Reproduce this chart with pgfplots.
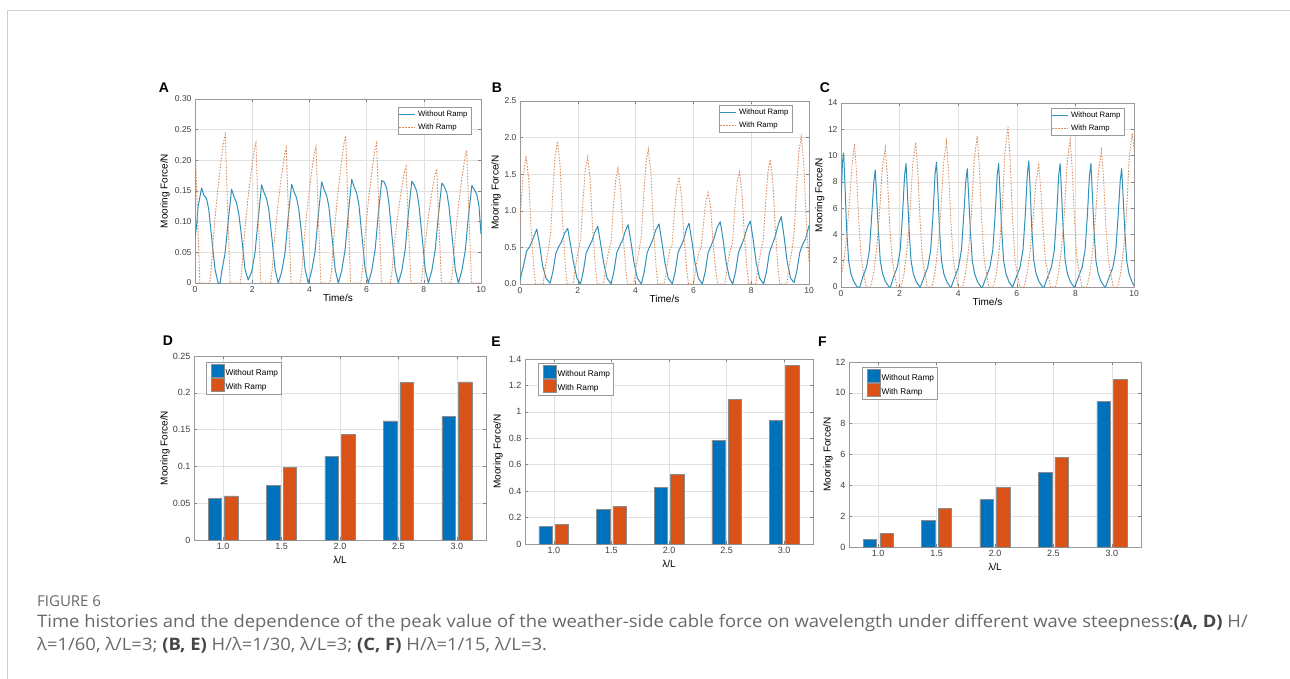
\documentclass[border=0pt]{standalone}
\usepackage{fontspec}
\setmainfont{Liberation Sans}
\newfontfamily\capfont{Open Sans}
\usepackage{graphicx}
\usepackage{pgfplots}
\pgfplotsset{compat=1.18}
\definecolor{lblue}{RGB}{50,145,185}
\definecolor{lred}{RGB}{217,140,92}
\definecolor{bblue}{RGB}{0,114,189}
\definecolor{bred}{RGB}{217,83,25}
\definecolor{framegray}{RGB}{208,208,208}
\definecolor{capgray}{RGB}{105,105,105}
\definecolor{capdark}{RGB}{70,70,70}
\pgfplotsset{
  base/.style={
    scale only axis, anchor=south west,
    axis line style={draw=black!40},
    tick style={draw=black!50, line width=0.5pt},
    major tick length=3pt, tick align=inside,
    grid=major, major grid style={draw=black!12, line width=0.6pt},
    tick label style={text=black!75},
    label style={text=black!85},
    ylabel={Mooring Force/N},
  },
  ylab at/.style={every axis y label/.style={at={(axis description cs:#1,0.5)},rotate=90,anchor=center,inner sep=0pt}},
  xlab at/.style={every axis x label/.style={at={(axis description cs:0.5,0)},anchor=center,inner sep=0pt,yshift=#1}},
  ts/.style={base,
    xmin=0, xmax=10, xtick={0,2,4,6,8,10}, xticklabels={0,2,4,6,8,10},
    xlabel={Time/s},
    tick label style={font=\fontsize{8.5}{9}\selectfont},
    label style={font=\fontsize{9.5}{10}\selectfont},
    xlab at=-15.3pt,
    legend cell align=left,
    legend image code/.code={\draw[##1] (1pt,0pt) -- (17pt,0pt);},
    legend style={anchor=north east, draw=black!40, font=\fontsize{7.8}{8}\selectfont, inner sep=1pt, row sep=1.5pt, nodes={inner sep=2.3pt}},
  },
  br/.style={base,
    xmin=0.5, xmax=5.5, xtick={1,2,3,4,5}, xticklabels={1.0,1.5,2.0,2.5,3.0},
    xlabel={λ/L},
    tick label style={font=\fontsize{9}{10}\selectfont},
    label style={font=\fontsize{11}{12}\selectfont},
    xlab at=-20pt,
    legend cell align=left,
    legend image code/.code={\path (0pt,0pt); \draw[##1] (3pt,-3.8pt) rectangle (16pt,9.2pt);},
    legend style={anchor=north west, draw=black!40, font=\fontsize{8.3}{9}\selectfont, inner sep=1.5pt, row sep=0pt, nodes={inner sep=1.3pt}},
  },
  bline/.style={color=lblue, line width=1pt, line join=round},
  rline/.style={color=lred, line width=0.9pt, dash pattern=on 1.5pt off 1.5pt},
  bbar/.style={ybar, bar width=0.231, bar shift=-0.142, fill=bblue, draw=black!45, line width=0.5pt},
  rbar/.style={ybar, bar width=0.231, bar shift=0.142, fill=bred, draw=black!45, line width=0.5pt},
}
\begin{document}
\begin{tikzpicture}
\useasboundingbox (0pt,0pt) rectangle (1290pt,-679pt);
\fill[white] (0pt,0pt) rectangle (1290pt,-679pt);
\draw[framegray, line width=1.4pt] (7.3pt,-679pt) -- (7.3pt,-10.7pt) -- (1290pt,-10.7pt);

% ---------- A ----------
\begin{axis}[ts, at={(195pt,-283pt)}, width=286pt, height=184pt,
  ymin=0, ymax=0.3, ytick={0,0.05,0.1,0.15,0.2,0.25,0.3},
  yticklabels={0,0.05,0.10,0.15,0.20,0.25,0.30}, ylab at=-0.105,
  legend style={at={(1,1)}, xshift=-10pt, yshift=-8pt}]
\addplot[bline] coordinates {
(0.00,0.075)(0.05,0.09)(0.11,0.125)(0.23,0.155)(0.31,0.143)(0.40,0.138)(0.48,0.12)(0.58,0.075)(0.70,0.022)(0.81,0.0)(0.88,0.0)(0.93,0.018)(1.05,0.048)(1.16,0.10)
(1.28,0.153)(1.36,0.141)(1.45,0.131)(1.53,0.113)(1.63,0.075)(1.75,0.022)(1.86,0.005)(1.98,0.018)(2.10,0.05)(2.21,0.105)
(2.33,0.160)(2.41,0.148)(2.50,0.138)(2.58,0.12)(2.68,0.077)(2.80,0.022)(2.91,0.0)(3.03,0.018)(3.15,0.05)(3.26,0.108)
(3.38,0.161)(3.46,0.149)(3.55,0.139)(3.63,0.12)(3.73,0.078)(3.85,0.022)(3.96,0.0)(4.08,0.02)(4.20,0.052)(4.31,0.11)
(4.43,0.165)(4.51,0.153)(4.60,0.143)(4.68,0.125)(4.78,0.08)(4.90,0.022)(5.01,0.0)(5.13,0.02)(5.25,0.055)(5.36,0.113)
(5.48,0.169)(5.56,0.157)(5.65,0.147)(5.73,0.128)(5.83,0.08)(5.95,0.022)(6.06,0.0)(6.18,0.02)(6.30,0.055)(6.41,0.113)
(6.53,0.167)(6.61,0.165)(6.70,0.155)(6.78,0.13)(6.88,0.08)(7.00,0.022)(7.11,0.0)(7.23,0.02)(7.35,0.055)(7.46,0.113)
(7.58,0.166)(7.66,0.16)(7.75,0.15)(7.83,0.127)(7.93,0.08)(8.05,0.022)(8.16,0.0)(8.28,0.02)(8.40,0.055)(8.51,0.11)
(8.63,0.163)(8.71,0.158)(8.80,0.148)(8.88,0.125)(8.98,0.08)(9.10,0.022)(9.21,0.0)(9.33,0.02)(9.45,0.053)(9.56,0.108)
(9.68,0.159)(9.76,0.153)(9.85,0.145)(9.93,0.125)(10.0,0.08)};
\addlegendentry{Without Ramp}
\addplot[rline] coordinates {
(0.00,0.236)(0.08,0.12)(0.17,0.0)(0.51,0.0)(0.56,0.019)(0.66,0.085)(0.78,0.145)(0.91,0.198)(1.00,0.23)
(1.06,0.242)(1.14,0.12)(1.23,0.0)(1.58,0.0)(1.63,0.018)(1.73,0.08)(1.85,0.137)(1.98,0.187)(2.07,0.217)
(2.13,0.228)(2.21,0.114)(2.30,0.0)(2.64,0.0)(2.69,0.018)(2.79,0.077)(2.91,0.132)(3.04,0.18)(3.13,0.209)
(3.19,0.220)(3.27,0.11)(3.36,0.0)(3.68,0.0)(3.73,0.018)(3.83,0.078)(3.95,0.133)(4.08,0.182)(4.17,0.211)
(4.23,0.222)(4.31,0.11)(4.40,0.0)(4.72,0.0)(4.77,0.019)(4.87,0.084)(4.99,0.144)(5.12,0.197)(5.21,0.228)
(5.27,0.240)(5.35,0.12)(5.44,0.0)(5.80,0.0)(5.85,0.018)(5.95,0.08)(6.07,0.137)(6.20,0.187)(6.29,0.217)
(6.35,0.228)(6.43,0.114)(6.52,0.0)(6.83,0.0)(6.88,0.015)(6.98,0.067)(7.10,0.114)(7.23,0.156)(7.32,0.18)
(7.38,0.190)(7.46,0.095)(7.55,0.0)(7.90,0.0)(7.95,0.015)(8.05,0.065)(8.17,0.112)(8.30,0.153)(8.39,0.177)
(8.45,0.186)(8.53,0.093)(8.62,0.0)(8.95,0.0)(9.00,0.017)(9.10,0.076)(9.22,0.13)(9.35,0.177)(9.44,0.205)
(9.50,0.216)(9.58,0.108)(9.67,0.0)(10.0,0.0)};
\addlegendentry{With Ramp}
\end{axis}

% ---------- B ----------
\begin{axis}[ts, at={(520pt,-284pt)}, width=289pt, height=183pt,
  ymin=0, ymax=2.5, ytick={0,0.5,1,1.5,2,2.5},
  yticklabels={0.0,0.5,1.0,1.5,2.0,2.5}, ylab at=-0.083,
  legend style={at={(1,1)}, xshift=-17pt, yshift=-4pt}]
\addplot[bline] coordinates {
(0.00,0.05)(0.12,0.25)(0.23,0.45)(0.35,0.52)(0.46,0.63)(0.58,0.75)(0.68,0.53)(0.78,0.25)(0.90,0.08)
(1.04,0.01)(1.14,0.17)(1.24,0.42)(1.34,0.51)(1.44,0.58)(1.54,0.69)(1.65,0.76)(1.75,0.53)(1.85,0.30)(1.97,0.08)
(2.09,0.0)(2.19,0.17)(2.29,0.42)(2.39,0.51)(2.49,0.59)(2.59,0.71)(2.69,0.79)(2.79,0.55)(2.89,0.30)(3.01,0.08)
(3.15,0.0)(3.25,0.17)(3.35,0.43)(3.45,0.52)(3.55,0.60)(3.65,0.73)(3.74,0.81)(3.84,0.57)(3.94,0.30)(4.06,0.08)
(4.20,0.0)(4.30,0.17)(4.40,0.43)(4.50,0.52)(4.60,0.61)(4.70,0.74)(4.81,0.82)(4.91,0.57)(5.01,0.30)(5.13,0.08)
(5.27,0.0)(5.37,0.17)(5.47,0.43)(5.57,0.52)(5.67,0.61)(5.76,0.75)(5.85,0.83)(5.95,0.58)(6.05,0.30)(6.17,0.08)
(6.31,0.0)(6.41,0.17)(6.51,0.43)(6.61,0.52)(6.71,0.62)(6.82,0.77)(6.93,0.85)(7.03,0.60)(7.13,0.30)(7.25,0.08)
(7.36,0.0)(7.46,0.17)(7.56,0.43)(7.66,0.53)(7.76,0.63)(7.87,0.78)(7.97,0.86)(8.07,0.60)(8.17,0.30)(8.29,0.08)
(8.43,0.0)(8.53,0.17)(8.63,0.43)(8.73,0.54)(8.83,0.65)(8.94,0.82)(9.04,0.92)(9.14,0.64)(9.24,0.32)(9.36,0.08)
(9.48,0.02)(9.58,0.18)(9.68,0.43)(9.78,0.54)(9.88,0.62)(10.0,0.80)};
\addlegendentry{Without Ramp}
\addplot[rline] coordinates {
(0.00,0.87)(0.10,1.45)(0.21,1.75)(0.30,1.44)(0.38,0.79)(0.48,0.21)(0.54,0.0)
(0.80,0.0)(0.88,0.24)(0.98,0.46)(1.06,0.70)(1.14,1.29)(1.22,1.76)(1.30,1.95)(1.39,1.60)(1.47,0.88)(1.57,0.23)(1.63,0.0)
(1.84,0.0)(1.92,0.24)(2.02,0.46)(2.10,0.62)(2.18,1.14)(2.26,1.56)(2.34,1.73)(2.43,1.42)(2.51,0.78)(2.61,0.21)(2.67,0.0)
(2.89,0.0)(2.97,0.24)(3.07,0.46)(3.15,0.57)(3.23,1.04)(3.31,1.42)(3.39,1.58)(3.48,1.30)(3.56,0.71)(3.66,0.19)(3.72,0.0)
(3.94,0.0)(4.02,0.24)(4.12,0.46)(4.20,0.66)(4.28,1.21)(4.36,1.66)(4.44,1.84)(4.53,1.51)(4.61,0.83)(4.71,0.22)(4.77,0.0)
(5.00,0.0)(5.08,0.24)(5.18,0.46)(5.26,0.53)(5.34,0.96)(5.42,1.31)(5.50,1.46)(5.59,1.20)(5.67,0.66)(5.77,0.18)(5.83,0.0)
(6.01,0.0)(6.09,0.24)(6.19,0.44)(6.27,0.50)(6.35,0.83)(6.43,1.13)(6.51,1.25)(6.60,1.03)(6.68,0.56)(6.78,0.15)(6.84,0.0)
(7.09,0.0)(7.17,0.24)(7.27,0.46)(7.35,0.55)(7.43,1.01)(7.51,1.38)(7.59,1.53)(7.68,1.25)(7.76,0.69)(7.86,0.18)(7.92,0.0)
(8.16,0.0)(8.24,0.24)(8.34,0.46)(8.42,0.61)(8.50,1.12)(8.58,1.53)(8.66,1.70)(8.75,1.39)(8.83,0.77)(8.93,0.20)(8.99,0.0)
(9.23,0.0)(9.31,0.24)(9.41,0.46)(9.49,0.72)(9.57,1.33)(9.65,1.81)(9.73,2.01)(9.82,1.65)(9.90,0.90)(10.0,0.30)};
\addlegendentry{With Ramp}
\end{axis}

% ---------- C ----------
\begin{axis}[ts, at={(841pt,-287pt)}, width=293pt, height=184pt,
  ymin=0, ymax=14, ytick={0,2,4,6,8,10,12,14},
  yticklabels={0,2,4,6,8,10,12,14}, ylab at=-0.072,
  legend style={at={(1,1)}, xshift=-10pt, yshift=-5pt}]
\addplot[bline] coordinates {
(0.00,6.5)(0.05,9.5)(0.09,10.2)(0.14,7.5)(0.19,4.5)(0.26,2.0)(0.34,1.0)(0.44,0.4)(0.55,0.0)(0.64,0.0)
(0.75,0.8)(0.87,1.5)(0.97,2.8)(1.05,5.5)(1.12,8.0)(1.17,8.9)(1.22,6.7)(1.27,4.5)(1.34,2.0)(1.42,1.0)(1.52,0.4)(1.64,0.0)(1.69,0.0)
(1.80,0.8)(1.92,1.5)(2.02,2.8)(2.10,5.5)(2.17,8.5)(2.22,9.4)(2.27,7.0)(2.32,4.5)(2.39,2.0)(2.47,1.0)(2.57,0.4)(2.69,0.0)(2.71,0.0)
(2.84,0.8)(2.96,1.5)(3.06,2.8)(3.14,5.5)(3.21,8.6)(3.26,9.5)(3.31,7.1)(3.36,4.5)(3.43,2.0)(3.51,1.0)(3.61,0.4)(3.73,0.0)(3.76,0.0)
(3.89,0.8)(4.01,1.5)(4.11,2.8)(4.19,5.5)(4.26,8.1)(4.31,9.0)(4.36,6.8)(4.41,4.5)(4.48,2.0)(4.56,1.0)(4.66,0.4)(4.78,0.0)(4.83,0.0)
(4.96,0.8)(5.08,1.5)(5.18,2.8)(5.26,5.5)(5.33,8.5)(5.38,9.4)(5.43,7.0)(5.48,4.5)(5.55,2.0)(5.63,1.0)(5.73,0.4)(5.85,0.0)(5.86,0.0)
(5.99,0.8)(6.11,1.5)(6.21,2.8)(6.29,5.5)(6.36,8.6)(6.41,9.6)(6.46,7.2)(6.51,4.5)(6.58,2.0)(6.66,1.0)(6.76,0.4)(6.88,0.0)(6.93,0.0)
(7.06,0.8)(7.18,1.5)(7.28,2.8)(7.36,5.5)(7.43,8.5)(7.48,9.4)(7.53,7.0)(7.58,4.5)(7.65,2.0)(7.73,1.0)(7.83,0.4)(7.95,0.0)(7.98,0.0)
(8.11,0.8)(8.23,1.5)(8.33,2.8)(8.41,5.5)(8.48,8.5)(8.53,9.4)(8.58,7.0)(8.63,4.5)(8.70,2.0)(8.78,1.0)(8.88,0.4)(9.00,0.0)(9.03,0.0)
(9.16,0.8)(9.28,1.5)(9.38,2.8)(9.46,5.5)(9.53,8.1)(9.58,9.0)(9.63,6.8)(9.68,4.5)(9.75,2.0)(9.83,1.0)(9.93,0.4)(10.0,0.1)};
\addlegendentry{Without Ramp}
\addplot[rline] coordinates {
(0.00,0.7)(0.10,2.0)(0.20,4.0)(0.30,6.8)(0.38,9.3)(0.46,10.9)(0.53,8.7)(0.61,4.9)(0.69,2.2)(0.76,1.2)(0.86,0.0)
(1.01,0.0)(1.11,1.0)(1.21,2.8)(1.31,5.5)(1.41,9.0)(1.51,10.6)(1.58,8.5)(1.66,4.8)(1.74,2.2)(1.81,1.2)(1.91,0.0)
(2.05,0.0)(2.15,1.0)(2.25,2.8)(2.35,5.5)(2.45,9.4)(2.55,11.0)(2.62,8.8)(2.70,5.0)(2.78,2.2)(2.85,1.2)(2.95,0.0)
(3.10,0.0)(3.20,1.0)(3.30,2.8)(3.40,5.5)(3.50,9.4)(3.60,11.1)(3.67,8.9)(3.75,5.0)(3.83,2.2)(3.90,1.2)(4.00,0.0)
(4.15,0.0)(4.25,1.0)(4.35,2.8)(4.45,5.5)(4.55,9.8)(4.65,11.5)(4.72,9.2)(4.80,5.2)(4.88,2.2)(4.95,1.2)(5.05,0.0)
(5.20,0.0)(5.30,1.0)(5.40,2.8)(5.50,5.8)(5.60,10.4)(5.70,12.2)(5.77,9.8)(5.85,5.5)(5.93,2.2)(6.00,1.2)(6.10,0.0)
(6.25,0.0)(6.35,1.0)(6.45,2.6)(6.55,5.0)(6.65,7.9)(6.75,9.3)(6.82,7.4)(6.90,4.2)(6.98,2.0)(7.05,1.2)(7.15,0.0)
(7.32,0.0)(7.42,1.0)(7.52,2.8)(7.62,5.5)(7.72,9.5)(7.82,11.2)(7.89,9.0)(7.97,5.0)(8.05,2.2)(8.12,1.2)(8.22,0.0)
(8.39,0.0)(8.49,1.0)(8.59,2.8)(8.69,5.5)(8.79,8.8)(8.89,10.4)(8.96,8.3)(9.04,4.7)(9.12,2.2)(9.19,1.2)(9.29,0.0)
(9.44,0.0)(9.54,1.0)(9.64,2.8)(9.74,5.5)(9.84,9.9)(9.94,11.7)(10.0,10.5)};
\addlegendentry{With Ramp}
\end{axis}

% ---------- D ----------
\begin{axis}[br, at={(194pt,-540pt)}, width=292pt, height=184pt,
  ymin=0, ymax=0.25, ytick={0,0.05,0.1,0.15,0.2,0.25},
  yticklabels={0,0.05,0.1,0.15,0.2,0.25}, ylab at=-0.099,
  legend style={at={(0,1)}, xshift=12pt, yshift=-6pt}]
\addplot[bbar] coordinates {(1,0.0566)(2,0.0747)(3,0.1132)(4,0.162)(5,0.1676)};
\addlegendentry{Without Ramp}
\addplot[rbar] coordinates {(1,0.0598)(2,0.0987)(3,0.144)(4,0.214)(5,0.2147)};
\addlegendentry{With Ramp}
\end{axis}

% ---------- E ----------
\begin{axis}[br, at={(525pt,-544pt)}, width=288pt, height=185pt,
  ymin=0, ymax=1.4, ytick={0,0.2,0.4,0.6,0.8,1,1.2,1.4},
  yticklabels={0,0.2,0.4,0.6,0.8,1,1.2,1.4}, ylab at=-0.094,
  legend style={at={(0,1)}, xshift=13pt, yshift=-4pt}]
\addplot[bbar] coordinates {(1,0.131)(2,0.26)(3,0.431)(4,0.782)(5,0.938)};
\addlegendentry{Without Ramp}
\addplot[rbar] coordinates {(1,0.151)(2,0.282)(3,0.525)(4,1.097)(5,1.352)};
\addlegendentry{With Ramp}
\end{axis}

% ---------- F ----------
\begin{axis}[br, at={(849pt,-547pt)}, width=292pt, height=185pt,
  ymin=0, ymax=12, ytick={0,2,4,6,8,10,12},
  yticklabels={0,2,4,6,8,10,12}, ylab at=-0.072,
  legend style={at={(0,1)}, xshift=13pt, yshift=-5pt}]
\addplot[bbar] coordinates {(1,0.497)(2,1.71)(3,3.09)(4,4.84)(5,9.43)};
\addlegendentry{Without Ramp}
\addplot[rbar] coordinates {(1,0.865)(2,2.49)(3,3.89)(4,5.82)(5,10.85)};
\addlegendentry{With Ramp}
\end{axis}

% panel letters
\begin{scope}[every node/.style={inner sep=0pt, anchor=center, font=\bfseries\fontsize{14}{14}\selectfont}]
\node at (164pt,-87.5pt) {A};
\node at (497pt,-87.5pt) {B};
\node at (825pt,-87.5pt) {C};
\node at (168pt,-341pt) {D};
\node at (496pt,-341.5pt) {E};
\node at (822.5pt,-342pt) {F};
\end{scope}

% caption
\node[anchor=base west, inner sep=0pt, text=capgray, font=\capfont\fontsize{15}{16}\selectfont] at (37pt,-606pt) {FIGURE 6};
\node[anchor=base west, inner sep=0pt, text=capgray, font=\capfont\fontsize{17.2}{18}\selectfont] at (37pt,-627.5pt) {\scalebox{1.072}[1]{Time histories and the dependence of the peak value of the weather-side cable force on wavelength under different wave steepness:\textcolor{capdark}{\bfseries(A, D)} H/}};
\node[anchor=base west, inner sep=0pt, text=capgray, font=\capfont\fontsize{17.2}{18}\selectfont] at (37pt,-650.5pt) {\scalebox{1.072}[1]{λ=1/60, λ/L=3; \textcolor{capdark}{\bfseries(B, E)} H/λ=1/30, λ/L=3; \textcolor{capdark}{\bfseries(C, F)} H/λ=1/15, λ/L=3.}};
\end{tikzpicture}
\end{document}
